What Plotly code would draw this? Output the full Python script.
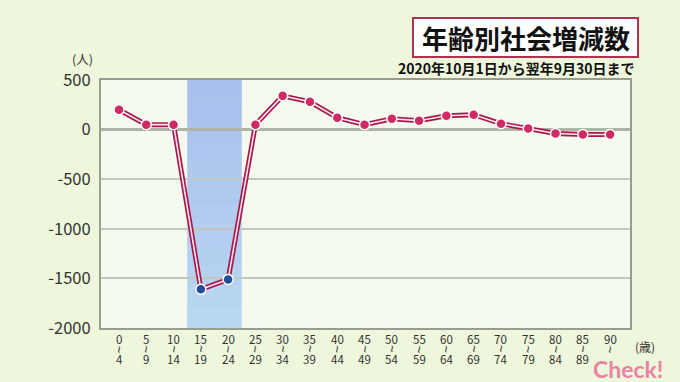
import plotly.graph_objects as go

age_start = ["0", "5", "10", "15", "20", "25", "30", "35", "40", "45",
             "50", "55", "60", "65", "70", "75", "80", "85", "90"]
age_end = ["4", "9", "14", "19", "24", "29", "34", "39", "44", "49",
           "54", "59", "64", "69", "74", "79", "84", "89", ""]
net_migration = [200, 50, 50, -1610, -1510, 50, 340, 280, 120, 50,
                 110, 90, 140, 150, 60, 10, -40, -50, -50]
highlight = [False, False, False, True, True, False, False, False, False, False,
             False, False, False, False, False, False, False, False, False]
y_tick_vals = [500, 0, -500, -1000, -1500, -2000]
y_tick_text = ["500", "0", "-500", "-1000", "-1500", "-2000"]

FONT = "Noto Sans CJK JP"
L, R, T, B = 101, 630, 80, 328
W, H = R - L, B - T


def px(xp):
    return (xp - L) / W


def py(yp):
    return (B - yp) / H


x = list(range(len(age_start)))

fig = go.Figure()
fig.add_trace(go.Scatter(x=x, y=net_migration, mode="lines",
                         line=dict(color="#a8184c", width=5), hoverinfo="skip"))
fig.add_trace(go.Scatter(x=x, y=net_migration, mode="lines",
                         line=dict(color="#fde4ec", width=1.6), hoverinfo="skip"))
fig.add_trace(go.Scatter(
    x=x, y=net_migration, mode="markers",
    marker=dict(size=10, color=["#1f4f9a" if h else "#d02a62" for h in highlight],
                line=dict(color="white", width=1.5))))

# highlighted band (15-24), light vertical gradient
hl_idx = [i for i, h in enumerate(highlight) if h]
band_top = (169, 191, 236)
band_bot = (184, 215, 242)
n_steps = 12
for k in range(n_steps):
    t = k / (n_steps - 1)
    c = tuple(round(band_top[j] + (band_bot[j] - band_top[j]) * t) for j in range(3))
    fig.add_shape(type="rect", xref="x", yref="paper",
                  x0=hl_idx[0] - 0.5, x1=hl_idx[-1] + 0.5,
                  y0=1 - (k + 1) / n_steps, y1=1 - k / n_steps + 0.002,
                  fillcolor="rgb(%d,%d,%d)" % c, line=dict(width=0), layer="below")

# x tick labels: start, wave, end
for i in x:
    fig.add_annotation(x=i, y=0, xref="x", yref="paper", xanchor="center", yanchor="middle",
                       yshift=-11, text=age_start[i], showarrow=False,
                       font=dict(family=FONT, size=11.5, color="#333333"))
    fig.add_annotation(x=i, y=0, xref="x", yref="paper", xanchor="center", yanchor="middle",
                       yshift=-21, text="~", textangle=90, showarrow=False,
                       font=dict(family="Liberation Sans", size=12.5, color="#333333"))
    if age_end[i]:
        fig.add_annotation(x=i, y=0, xref="x", yref="paper", xanchor="center", yanchor="middle",
                           yshift=-31, text=age_end[i], showarrow=False,
                           font=dict(family=FONT, size=11.5, color="#333333"))

# title box
fig.add_shape(type="rect", xref="paper", yref="paper", x0=px(413), x1=px(638),
              y0=py(57), y1=py(18),
              fillcolor="white", line=dict(color="#b03050", width=2))
fig.add_annotation(x=px(526), y=py(37), xref="paper", yref="paper",
                   xanchor="center", yanchor="middle",
                   text="<b>年齢別社会増減数</b>", showarrow=False,
                   font=dict(family=FONT, size=26, color="#111111"))
fig.add_annotation(x=px(637), y=py(68), xref="paper", yref="paper",
                   xanchor="right", yanchor="middle",
                   text="<b>2020年10月1日から翌年9月30日まで</b>", showarrow=False,
                   font=dict(family=FONT, size=14, color="#111111"))
fig.add_annotation(x=px(82), y=py(59), xref="paper", yref="paper",
                   xanchor="center", yanchor="middle",
                   text="(人)", showarrow=False,
                   font=dict(family=FONT, size=12.5, color="#333333"))
fig.add_annotation(x=px(645), y=py(346), xref="paper", yref="paper",
                   xanchor="center", yanchor="middle",
                   text="(歳)", showarrow=False,
                   font=dict(family=FONT, size=12, color="#333333"))
fig.add_annotation(x=px(628), y=py(369), xref="paper", yref="paper",
                   xanchor="center", yanchor="middle",
                   text="<b>Check!</b>", showarrow=False,
                   font=dict(family="Lato", size=23, color="#e884a4"))

fig.update_xaxes(range=[-0.66, 18.73], showticklabels=False, showgrid=False, zeroline=False,
                 showline=True, mirror=True, linecolor="#9a9c90", linewidth=2, ticks="")
fig.update_yaxes(range=[-2000, 500], tickvals=y_tick_vals, ticktext=y_tick_text,
                 showgrid=True, gridcolor="#c4c8bc", gridwidth=1.5,
                 zeroline=True, zerolinecolor="#b0b4a6", zerolinewidth=3,
                 showline=True, mirror=True, linecolor="#9a9c90", linewidth=2,
                 ticks="", ticklabelstandoff=5,
                 tickfont=dict(family=FONT, size=16.5, color="#333333"))

fig.update_layout(width=680, height=382, showlegend=False,
                  margin=dict(l=L, r=680 - R, t=T, b=382 - B),
                  paper_bgcolor="#eef6dc", plot_bgcolor="#f5faee")

fig.write_html("out.html", config={"displayModeBar": False},
               post_script="document.body.style.margin='0';")
